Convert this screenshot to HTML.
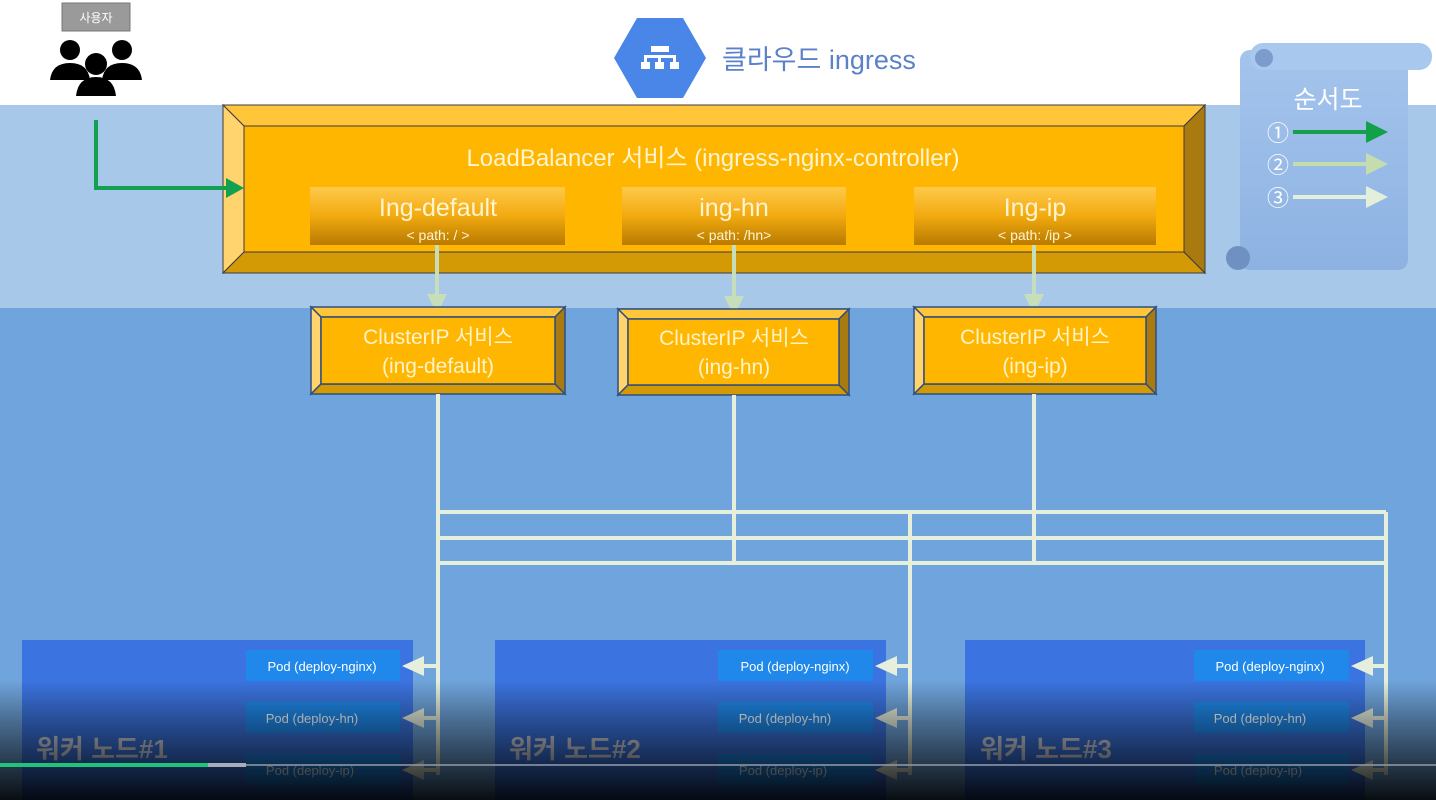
<!DOCTYPE html>
<html><head><meta charset="utf-8"><style>
html,body{margin:0;padding:0;width:1436px;height:800px;overflow:hidden;background:#fff}
svg{display:block}
text{font-family:"Liberation Sans","Noto Sans CJK KR",sans-serif}
</style></head><body>
<svg width="1436" height="800" viewBox="0 0 1436 800" xmlns="http://www.w3.org/2000/svg">
<defs>
<linearGradient id="sub" x1="0" y1="0" x2="0" y2="1">
<stop offset="0" stop-color="#ffc94a"/><stop offset="0.5" stop-color="#f2aa10"/><stop offset="1" stop-color="#b87a00"/>
</linearGradient>
<linearGradient id="ov" x1="0" y1="0" x2="0" y2="1">
<stop offset="0" stop-color="#000" stop-opacity="0"/><stop offset="0.35" stop-color="#000" stop-opacity="0.35"/><stop offset="1" stop-color="#000" stop-opacity="0.92"/>
</linearGradient>
<linearGradient id="scroll" x1="0" y1="0" x2="0" y2="1">
<stop offset="0" stop-color="#a4c4ec"/><stop offset="1" stop-color="#8db2e2"/>
</linearGradient>
</defs>
<rect x="0" y="0" width="1436" height="105" fill="#fff"/>
<rect x="0" y="105" width="1436" height="203" fill="#a8c8e9"/>
<rect x="0" y="308" width="1436" height="492" fill="#6fa4dc"/>

<!-- user -->
<rect x="62" y="3" width="68" height="28" fill="#9a9a9a" stroke="#777" stroke-width="1"/>
<text x="96" y="22" font-size="12" fill="#fff" text-anchor="middle">사용자</text>
<g fill="#000">
<circle cx="70" cy="50" r="10"/><path d="M50 80 Q52 63 70 63 Q88 63 90 80 Z"/>
<circle cx="122" cy="50" r="10"/><path d="M102 80 Q104 63 122 63 Q140 63 142 80 Z"/>
<circle cx="96" cy="64" r="11"/><path d="M76 96 Q78 77 96 77 Q114 77 116 96 Z"/>
</g>

<!-- hexagon -->
<polygon points="614,58 637,18 683,18 706,58 683,98 637,98" fill="#4a86e8"/>
<g fill="#fff">
<rect x="651" y="46" width="18" height="6"/><rect x="644" y="55" width="32" height="3"/>
<rect x="644" y="55" width="3" height="8"/><rect x="658" y="55" width="3" height="8"/><rect x="673" y="55" width="3" height="8"/>
<rect x="641" y="62" width="9" height="7"/><rect x="655" y="62" width="9" height="7"/><rect x="670" y="62" width="9" height="7"/>
</g>
<text x="722" y="69" font-size="27" fill="#5b82c9">클라우드 ingress</text>

<!-- legend scroll -->
<rect x="1240" y="50" width="168" height="220" rx="10" fill="url(#scroll)"/>
<rect x="1250" y="43" width="182" height="27" rx="13" fill="#a9c8ee"/>
<circle cx="1264" cy="58" r="9" fill="#7b9ccc"/>
<circle cx="1238" cy="258" r="12" fill="#6f91c2"/>
<text x="1328" y="108" font-size="25" fill="#fff" text-anchor="middle">순서도</text>
<g font-size="22" fill="#fff" text-anchor="middle">
<text x="1278" y="141">①</text><text x="1278" y="173">②</text><text x="1278" y="206">③</text>
</g>
<line x1="1293" y1="132" x2="1370" y2="132" stroke="#13a04a" stroke-width="4"/><polygon points="1388,132 1366,121 1366,143" fill="#13a04a"/>
<line x1="1293" y1="164" x2="1370" y2="164" stroke="#c4dcae" stroke-width="4"/><polygon points="1388,164 1366,153 1366,175" fill="#c4dcae"/>
<line x1="1293" y1="197" x2="1370" y2="197" stroke="#e4efdb" stroke-width="4"/><polygon points="1388,197 1366,186 1366,208" fill="#e4efdb"/>

<!-- main box -->
<g stroke="#3d3a40" stroke-width="1">
<polygon points="223,105 1205,105 1184,126 244,126" fill="#ffc63a"/>
<polygon points="223,105 244,126 244,252 223,273" fill="#ffd36e"/>
<polygon points="223,273 244,252 1184,252 1205,273" fill="#d39a06"/>
<polygon points="1205,105 1205,273 1184,252 1184,126" fill="#a97a10"/>
<rect x="244" y="126" width="940" height="126" fill="#ffb600"/>
</g>
<path d="M96 120 V188 H228" fill="none" stroke="#12a150" stroke-width="4"/>
<polygon points="244,188 226,178 226,198" fill="#12a150"/>
<text x="713" y="166" font-size="24" fill="#fff4d0" text-anchor="middle">LoadBalancer 서비스 (ingress-nginx-controller)</text>
<rect x="310" y="187" width="255" height="58" fill="url(#sub)"/>
<rect x="622" y="187" width="224" height="58" fill="url(#sub)"/>
<rect x="914" y="187" width="242" height="58" fill="url(#sub)"/>
<g fill="#fff4d0" text-anchor="middle">
<text x="438" y="216" font-size="25">Ing-default</text><text x="438" y="240" font-size="14">&lt; path: / &gt;</text>
<text x="734" y="216" font-size="25">ing-hn</text><text x="734" y="240" font-size="14">&lt; path: /hn&gt;</text>
<text x="1035" y="216" font-size="25">Ing-ip</text><text x="1035" y="240" font-size="14">&lt; path: /ip &gt;</text>
</g>

<!-- arrows to cluster -->
<g stroke="#c6dfba" stroke-width="4">
<line x1="437" y1="245" x2="437" y2="300"/><line x1="734" y1="245" x2="734" y2="302"/><line x1="1034" y1="245" x2="1034" y2="300"/>
</g>
<g fill="#c6dfba">
<polygon points="437,314 427,294 447,294"/><polygon points="734,316 724,296 744,296"/><polygon points="1034,314 1024,294 1044,294"/>
</g>

<!-- cluster boxes -->
<g stroke="#2f4f80" stroke-width="1.5">
<polygon points="311,307 565,307 555,317 321,317" fill="#ffc63a"/>
<polygon points="311,307 321,317 321,384 311,394" fill="#ffd36e"/>
<polygon points="311,394 321,384 555,384 565,394" fill="#d39a06"/>
<polygon points="565,307 565,394 555,384 555,317" fill="#a97a10"/>
<rect x="321" y="317" width="234" height="67" fill="#ffb600"/>
<polygon points="618,309 849,309 839,319 628,319" fill="#ffc63a"/>
<polygon points="618,309 628,319 628,385 618,395" fill="#ffd36e"/>
<polygon points="618,395 628,385 839,385 849,395" fill="#d39a06"/>
<polygon points="849,309 849,395 839,385 839,319" fill="#a97a10"/>
<rect x="628" y="319" width="211" height="66" fill="#ffb600"/>
<polygon points="914,307 1156,307 1146,317 924,317" fill="#ffc63a"/>
<polygon points="914,307 924,317 924,384 914,394" fill="#ffd36e"/>
<polygon points="914,394 924,384 1146,384 1156,394" fill="#d39a06"/>
<polygon points="1156,307 1156,394 1146,384 1146,317" fill="#a97a10"/>
<rect x="924" y="317" width="222" height="67" fill="#ffb600"/>
</g>
<g fill="#fff3c8" text-anchor="middle" font-size="21">
<text x="438" y="344">ClusterIP 서비스</text><text x="438" y="373">(ing-default)</text>
<text x="734" y="345">ClusterIP 서비스</text><text x="734" y="374">(ing-hn)</text>
<text x="1035" y="344">ClusterIP 서비스</text><text x="1035" y="373">(ing-ip)</text>
</g>

<!-- worker nodes -->
<rect x="22" y="640" width="391" height="160" fill="#3b74e0"/>
<rect x="495" y="640" width="391" height="160" fill="#3b74e0"/>
<rect x="965" y="640" width="400" height="160" fill="#3b74e0"/>
<g fill="#1f88ea">
<rect x="246" y="650" width="154" height="31"/><rect x="246" y="702" width="154" height="31"/><rect x="246" y="754" width="154" height="31"/>
<rect x="718" y="650" width="155" height="31"/><rect x="718" y="702" width="155" height="31"/><rect x="718" y="754" width="155" height="31"/>
<rect x="1194" y="650" width="155" height="31"/><rect x="1194" y="702" width="155" height="31"/><rect x="1194" y="754" width="155" height="31"/>
</g>
<g fill="#fff" font-size="13" text-anchor="middle">
<text x="322" y="671">Pod (deploy-nginx)</text><text x="312" y="723">Pod (deploy-hn)</text><text x="310" y="775">Pod (deploy-ip)</text>
<text x="795" y="671">Pod (deploy-nginx)</text><text x="785" y="723">Pod (deploy-hn)</text><text x="783" y="775">Pod (deploy-ip)</text>
<text x="1270" y="671">Pod (deploy-nginx)</text><text x="1260" y="723">Pod (deploy-hn)</text><text x="1258" y="775">Pod (deploy-ip)</text>
</g>

<!-- connector lines -->
<g stroke="#e6efdc" stroke-width="4" fill="none">
<line x1="438" y1="394" x2="438" y2="775"/>
<line x1="734" y1="395" x2="734" y2="563"/>
<line x1="1034" y1="394" x2="1034" y2="563"/>
<line x1="438" y1="512" x2="1386" y2="512"/>
<line x1="438" y1="538" x2="1386" y2="538"/>
<line x1="438" y1="563" x2="1386" y2="563"/>
<line x1="910" y1="512" x2="910" y2="775"/>
<line x1="1386" y1="512" x2="1386" y2="775"/>
<line x1="420" y1="666" x2="438" y2="666"/><line x1="420" y1="718" x2="438" y2="718"/><line x1="420" y1="770" x2="438" y2="770"/>
<line x1="892" y1="666" x2="910" y2="666"/><line x1="892" y1="718" x2="910" y2="718"/><line x1="892" y1="770" x2="910" y2="770"/>
<line x1="1368" y1="666" x2="1386" y2="666"/><line x1="1368" y1="718" x2="1386" y2="718"/><line x1="1368" y1="770" x2="1386" y2="770"/>
</g>
<g fill="#e6efdc">
<polygon points="402,666 424,656 424,676"/><polygon points="402,718 424,708 424,728"/><polygon points="402,770 424,760 424,780"/>
<polygon points="875,666 897,656 897,676"/><polygon points="875,718 897,708 897,728"/><polygon points="875,770 897,760 897,780"/>
<polygon points="1351,666 1373,656 1373,676"/><polygon points="1351,718 1373,708 1373,728"/><polygon points="1351,770 1373,760 1373,780"/>
</g>

<g fill="#d4d8df" font-size="26" font-weight="bold">
<text x="36" y="758">워커 노드#1</text><text x="509" y="758">워커 노드#2</text><text x="980" y="758">워커 노드#3</text>
</g>

<!-- video overlay -->
<rect x="0" y="680" width="1436" height="120" fill="url(#ov)"/>
<rect x="0" y="764" width="1436" height="2" fill="#8f96a0" opacity="0.8"/>
<rect x="208" y="763" width="38" height="4" fill="#a9adb8"/>
<rect x="0" y="763" width="208" height="4" fill="#1fc47a"/>
</svg>
</body></html>
